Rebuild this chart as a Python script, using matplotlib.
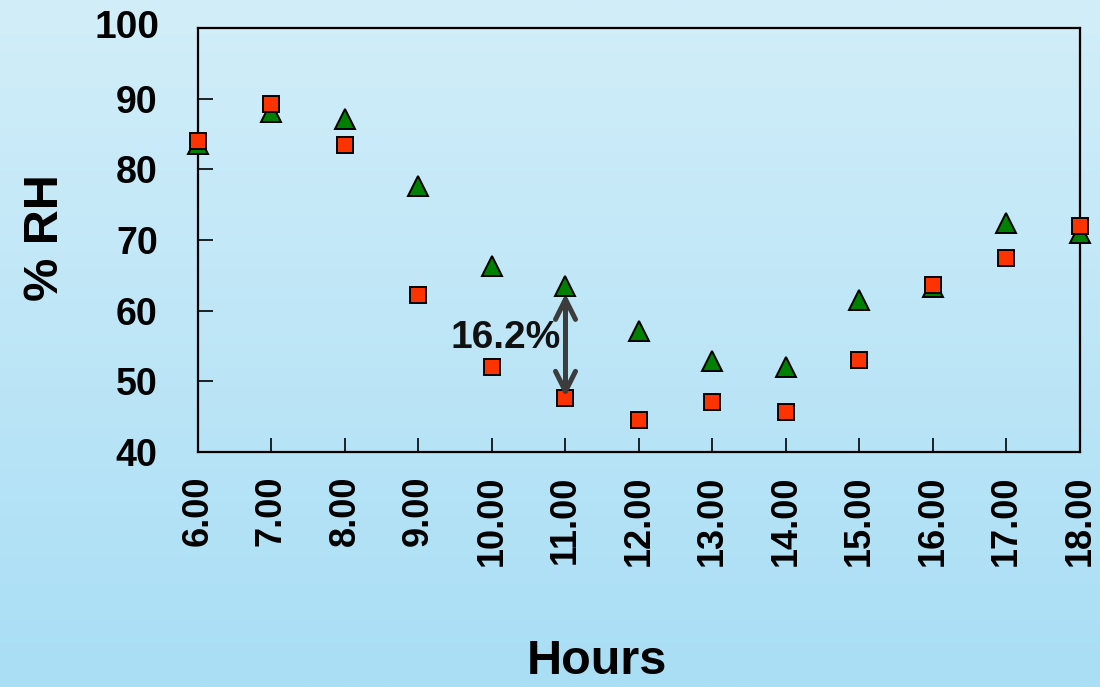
import numpy as np
import matplotlib
matplotlib.use('Agg')
import matplotlib.pyplot as plt
from matplotlib.colors import LinearSegmentedColormap

plt.rcParams['font.family'] = ['Liberation Sans', 'DejaVu Sans']
plt.rcParams['font.weight'] = 'bold'

# data
hours = [6, 7, 8, 9, 10, 11, 12, 13, 14, 15, 16, 17, 18]
hour_labels = ['6.00', '7.00', '8.00', '9.00', '10.00', '11.00', '12.00',
               '13.00', '14.00', '15.00', '16.00', '17.00', '18.00']
rh_green = [83.6, 88.1, 87.1, 77.6, 66.3, 63.5, 57.2, 52.9, 52.0, 61.5, 63.3, 72.4, 71.0]
rh_red = [84.0, 89.2, 83.5, 62.3, 52.0, 47.6, 44.5, 47.1, 45.7, 53.0, 63.7, 67.4, 72.0]
y_ticks = [40, 50, 60, 70, 80, 90, 100]

fig = plt.figure(figsize=(11, 6.87), dpi=100)

# light blue vertical gradient background
bg = fig.add_axes([0, 0, 1, 1], zorder=-10)
cmap = LinearSegmentedColormap.from_list('bg', ['#d2eef9', '#a9def5'])
bg.imshow(np.linspace(0, 1, 256).reshape(-1, 1), aspect='auto', cmap=cmap,
          extent=[0, 1, 0, 1])
bg.set_axis_off()

ax = fig.add_axes([0.18, 0.342, 0.8018, 0.617])
ax.set_facecolor('none')

ax.plot(hours, rh_green, linestyle='none', marker='^', ms=14, mfc='#008000',
        mec='black', mew=1.4, clip_on=False, zorder=3)
ax.plot(hours, rh_red, linestyle='none', marker='s', ms=12, mfc='#ff3300',
        mec='black', mew=1.4, clip_on=False, zorder=4)

# difference arrow at 11.00
ax.annotate('', xy=(11, 47.8), xytext=(11, 62.4),
            arrowprops=dict(arrowstyle='<->', color='#3c3c3c', lw=3.6,
                            mutation_scale=36, shrinkA=0, shrinkB=0,
                            capstyle='round'),
            zorder=5)
ax.text(10.93, 56.1, '16.2%', ha='right', va='center', fontsize=28,
        fontweight='bold', color='#111111')

ax.set_xlim(6, 18)
ax.set_ylim(40, 100)
ax.set_xticks(hours)
ax.set_xticklabels(hour_labels, rotation=90, fontsize=26, fontweight='bold')
ax.set_yticks(y_ticks[:-1])
ax.set_yticklabels([str(v) for v in y_ticks[:-1]], fontsize=27, fontweight='bold')
ax.tick_params(axis='x', direction='in', length=10, width=1.2, pad=17, top=False)
ax.tick_params(axis='y', direction='in', length=11, width=1.2, pad=29, right=False)
for s in ax.spines.values():
    s.set_linewidth(1.6)
    s.set_color('black')

# 100 label sits at the top without a tick
ax.text(-0.044, 1.0, '100', transform=ax.transAxes, ha='right', va='center',
        fontsize=28, fontweight='bold')

fig.text(45 / 1100, 1 - 238 / 687, '% RH', rotation=90, ha='center', va='center',
         fontsize=35, fontweight='bold')
fig.text(597 / 1100, 1 - 661 / 687, 'Hours', ha='center', va='center',
         fontsize=35, fontweight='bold')

fig.savefig('out.png', dpi=100)
